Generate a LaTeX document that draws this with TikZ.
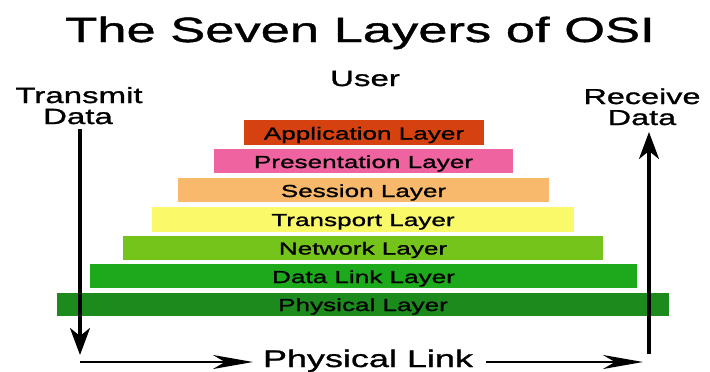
\documentclass[tikz,border=0pt]{standalone}
\usepackage{fontspec}
\setmainfont{Liberation Sans}[FakeStretch=1.5,FakeBold=1.2]
\usetikzlibrary{arrows.meta}
\definecolor{cApp}{HTML}{D5420F}
\definecolor{cPre}{HTML}{EF64A0}
\definecolor{cSes}{HTML}{F8B96C}
\definecolor{cTra}{HTML}{F9F96A}
\definecolor{cNet}{HTML}{74C41B}
\definecolor{cDat}{HTML}{1CAA1C}
\definecolor{cPhy}{HTML}{1C8A1C}
\tikzset{
  layertext/.style={anchor=base,inner sep=0pt,font=\fontsize{17.4}{20}\selectfont,text=black},
  bigtext/.style={anchor=base,inner sep=0pt,font=\fontsize{22}{26}\selectfont},
  vertarrow/.style={line width=3.3pt,-{Stealth[length=27pt,width=20pt,inset=8pt]}},
  horarrow/.style={line width=2.4pt,-{Stealth[length=40pt,width=14pt,inset=12pt]}}
}
\begin{document}
\begin{tikzpicture}[x=1pt,y=-1pt]
\useasboundingbox[fill=white] (0,0) rectangle (710,372);
% title
\node[anchor=base,inner sep=0pt,font=\fontsize{35}{40}\selectfont] (title) at (360,42) {The Seven Layers of OSI};
\node[bigtext] (user) at (365,86) {User};
\node[bigtext] (transmit) at (79,103) {Transmit};
\node[bigtext] (tdata) at (78,124) {Data};
\node[bigtext,font=\fontsize{21.6}{26}\selectfont] (receive) at (642,104) {Receive};
\node[bigtext,font=\fontsize{21.6}{26}\selectfont] (rdata) at (642,125) {Data};
% layers
\fill[cApp] (244,120) rectangle (484,144.5);
\node[layertext] (app) at (364,139.5) {Application Layer};
\fill[cPre] (214,149) rectangle (513,173);
\node[layertext] (pre) at (363.5,168) {Presentation Layer};
\fill[cSes] (178,178) rectangle (549,202);
\node[layertext] (ses) at (363.5,197) {Session Layer};
\fill[cTra] (152,207) rectangle (574,231.5);
\node[layertext] (tra) at (363,226) {Transport Layer};
\fill[cNet] (123,235.5) rectangle (603,260);
\node[layertext] (net) at (363,254.5) {Network Layer};
\fill[cDat] (89.5,264) rectangle (637,288);
\node[layertext] (dat) at (363.5,283) {Data Link Layer};
\fill[cPhy] (57,292.5) rectangle (669,316);
\node[layertext] (phy) at (363,311) {Physical Layer};
% physical link
\node[anchor=base,inner sep=0pt,font=\fontsize{24}{28}\selectfont] (plink) at (368,367) {Physical Link};
% arrows
\coordinate (ltop) at (80,129);
\coordinate (lbot) at (80,355);
\coordinate (h1s) at (80,362);
\coordinate (h1e) at (253,362);
\coordinate (h2s) at (486,362);
\coordinate (h2e) at (643,362);
\coordinate (rbot) at (649,354);
\coordinate (rtop) at (649,132);
\draw[vertarrow] (ltop) -- (lbot);
\draw[horarrow] (h1s) -- (h1e);
\draw[horarrow] (h2s) -- (h2e);
\draw[vertarrow] (rbot) -- (rtop);
\end{tikzpicture}
\end{document}
